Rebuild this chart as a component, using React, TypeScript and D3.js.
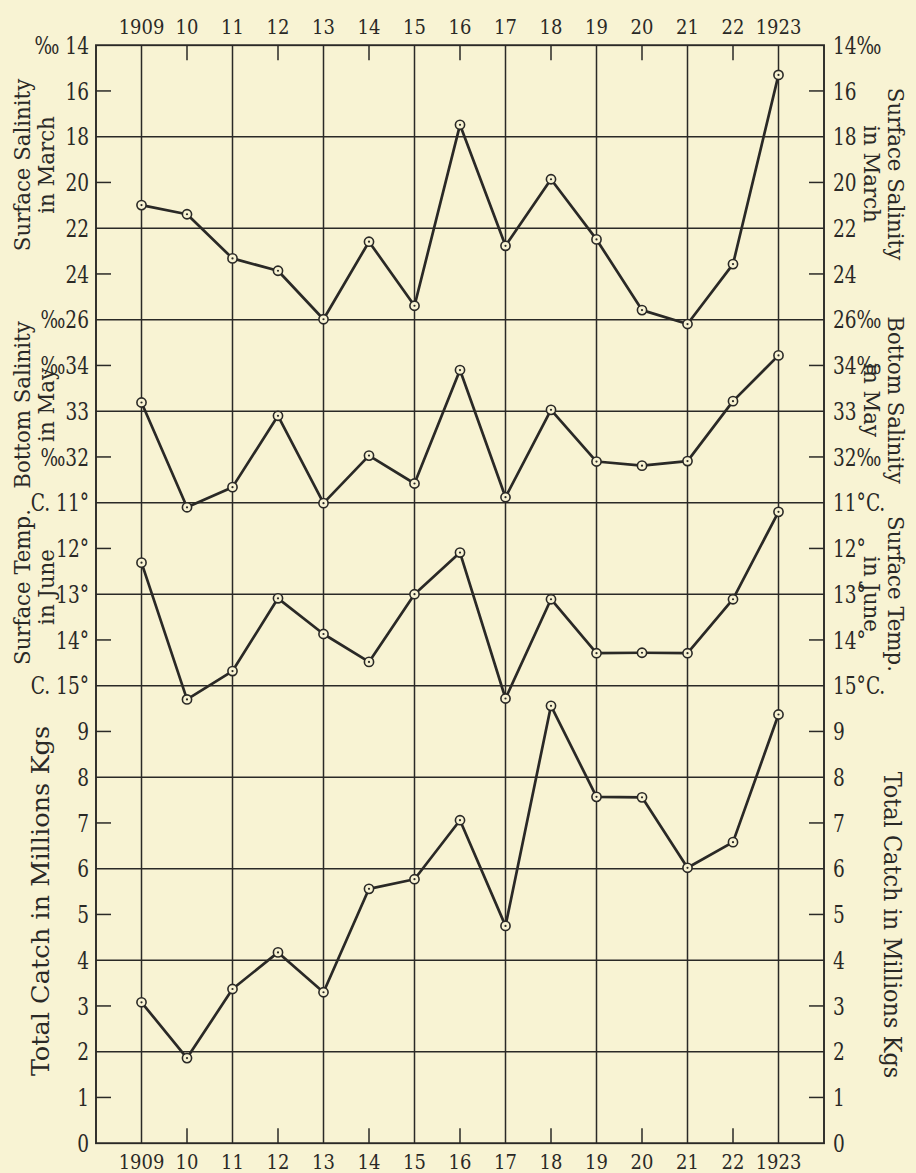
import React from "react";
import * as d3 from "d3";

const years = [1909, 1910, 1911, 1912, 1913, 1914, 1915, 1916, 1917, 1918, 1919, 1920, 1921, 1922, 1923];
const yearLabels = ["1909", "10", "11", "12", "13", "14", "15", "16", "17", "18", "19", "20", "21", "22", "1923"];

const surfaceSalinityMarch = [20.99, 21.39, 23.32, 23.86, 25.98, 22.59, 25.39, 17.48, 22.77, 19.86, 22.49, 25.58, 26.19, 23.57, 15.3];
const bottomSalinityMay = [33.19, 30.9, 31.34, 32.9, 30.99, 32.03, 31.42, 33.9, 31.12, 33.03, 31.9, 31.81, 31.91, 33.22, 34.22];
const surfaceTempJune = [12.31, 15.3, 14.68, 13.09, 13.87, 14.48, 13.0, 12.09, 15.28, 13.11, 14.29, 14.28, 14.29, 13.11, 11.2];
const totalCatch = [3.08, 1.86, 3.37, 4.17, 3.3, 5.56, 5.77, 7.06, 4.75, 9.56, 7.57, 7.56, 6.02, 6.58, 9.37];

// tick labels per panel: [value, left label, right label]
const ssLabels: [number, string, string][] = [
  [14, "‰ 14", "14‰"], [16, "16", "16"], [18, "18", "18"], [20, "20", "20"], [22, "22", "22"], [24, "24", "24"], [26, "‰26", "26‰"],
];
const bsLabels: [number, string, string][] = [[34, "‰34", "34‰"], [33, "33", "33"], [32, "‰32", "32‰"]];
const stLabels: [number, string, string][] = [
  [11, "C. 11°", "11°C."], [12, "12°", "12°"], [13, "13°", "13°"], [14, "14°", "14°"], [15, "C. 15°", "15°C."],
];
const tcLabels: [number, string, string][] = [
  [9, "9", "9"], [8, "8", "8"], [7, "7", "7"], [6, "6", "6"], [5, "5", "5"], [4, "4", "4"], [3, "3", "3"], [2, "2", "2"], [1, "1", "1"], [0, "0", "0"],
];
const ssGrid = [18, 22, 26];
const ssTicks = [16, 20, 24];
const bsGrid = [33];
const bsTicks = [34, 32];
const stGrid = [11, 13, 15];
const stTicks = [12, 14];
const tcGrid = [8, 6, 4, 2];
const tcTicks = [9, 7, 5, 3, 1];

const W = 916, H = 1173;
const BG = "#f8f3d3";
const INK = "#2a2926";
const LEFT = 96, RIGHT = 824, TOP = 45.2, STEP = 45.75;
const BOTTOM = TOP + 24 * STEP;
const FONT = "'DejaVu Serif Condensed', 'DejaVu Serif', serif";

const x = d3.scaleLinear().domain([1908, 1924]).range([LEFT, RIGHT]);
const ySS = d3.scaleLinear().domain([14, 26]).range([TOP, TOP + 6 * STEP]);
const yBS = d3.scaleLinear().domain([35, 31]).range([TOP + 6 * STEP, TOP + 10 * STEP]);
const yST = d3.scaleLinear().domain([11, 15]).range([TOP + 10 * STEP, TOP + 14 * STEP]);
const yTC = d3.scaleLinear().domain([10, 0]).range([TOP + 14 * STEP, BOTTOM]);

const panels = [
  { y: ySS, data: surfaceSalinityMarch, labels: ssLabels, grid: ssGrid, ticks: ssTicks },
  { y: yBS, data: bottomSalinityMay, labels: bsLabels, grid: bsGrid, ticks: bsTicks },
  { y: yST, data: surfaceTempJune, labels: stLabels, grid: stGrid, ticks: stTicks },
  { y: yTC, data: totalCatch, labels: tcLabels, grid: tcGrid, ticks: tcTicks },
];

function T(p: { x: number; y: number; anchor?: string; size?: number; sx?: number; rot?: number; children: any }) {
  const { anchor = "middle", size = 21, sx = 1, rot = 0 } = p;
  return (
    <text
      transform={`translate(${p.x},${p.y}) rotate(${rot}) scale(${sx},1)`}
      textAnchor={anchor}
      fontFamily={FONT}
      fontSize={size}
      fill={INK}
      dy="0.36em"
    >
      {p.children}
    </text>
  );
}

const leftTitles = [
  { lines: ["Surface Salinity", "in March"], cy: 165 },
  { lines: ["Bottom Salinity", "in May"], cy: 405 },
  { lines: ["Surface Temp.", "in June"], cy: 587 },
];
const rightTitles = [
  { lines: ["Surface Salinity", "in March"], cy: 174 },
  { lines: ["Bottom Salinity", "in May"], cy: 400 },
  { lines: ["Surface Temp.", "in June"], cy: 594 },
];

export default function App() {
  const oddYears = years.filter((yr) => yr % 2 === 1);
  const evenYears = years.filter((yr) => yr % 2 === 0);
  return (
    <div style={{ position: "absolute", left: 0, top: 0 }}>
      <svg width={W} height={H} style={{ display: "block" }}>
        <rect x={0} y={0} width={W} height={H} fill={BG} />
        {/* vertical grid */}
        {oddYears.map((yr) => (
          <line key={"v" + yr} x1={x(yr)} x2={x(yr)} y1={TOP} y2={BOTTOM} stroke={INK} strokeWidth={1.5} />
        ))}
        {evenYears.map((yr) => (
          <g key={"e" + yr}>
            <line x1={x(yr)} x2={x(yr)} y1={TOP} y2={TOP + 15} stroke={INK} strokeWidth={1.5} />
            <line x1={x(yr)} x2={x(yr)} y1={BOTTOM} y2={BOTTOM - 15} stroke={INK} strokeWidth={1.5} />
          </g>
        ))}
        {/* horizontal grid */}
        {panels.map((p, i) => (
          <g key={"h" + i}>
            {p.grid.map((v) => (
              <line key={v} x1={LEFT} x2={RIGHT} y1={p.y(v)} y2={p.y(v)} stroke={INK} strokeWidth={1.5} />
            ))}
            {p.ticks.map((v) => (
              <g key={v}>
                <line x1={LEFT} x2={LEFT + 15} y1={p.y(v)} y2={p.y(v)} stroke={INK} strokeWidth={1.5} />
                <line x1={RIGHT} x2={RIGHT - 15} y1={p.y(v)} y2={p.y(v)} stroke={INK} strokeWidth={1.5} />
              </g>
            ))}
          </g>
        ))}
        {/* frame */}
        <rect x={LEFT} y={TOP} width={RIGHT - LEFT} height={BOTTOM - TOP} fill="none" stroke={INK} strokeWidth={1.9} />
        {/* year labels */}
        {years.map((yr, i) => (
          <g key={"yl" + yr}>
            <T x={x(yr)} y={TOP - 19} size={21} sx={0.95}>{yearLabels[i]}</T>
            <T x={x(yr)} y={BOTTOM + 18} size={21} sx={0.95}>{yearLabels[i]}</T>
          </g>
        ))}
        {/* side tick labels */}
        {panels.map((p, i) => (
          <g key={"tl" + i}>
            {p.labels.map(([v, l, r]) => (
              <g key={v}>
                <T x={LEFT - 7} y={p.y(v)} anchor="end" size={24} sx={0.86}>{l}</T>
                <T x={RIGHT + 9} y={p.y(v)} anchor="start" size={24} sx={0.86}>{r}</T>
              </g>
            ))}
          </g>
        ))}
        {/* titles */}
        {leftTitles.map((t, i) =>
          t.lines.map((ln, j) => (
            <T key={"lt" + i + j} x={22 + j * 24} y={t.cy} rot={-90} size={23} sx={1.03}>{ln}</T>
          ))
        )}
        <T x={40} y={901} rot={-90} size={25} sx={1.14}>Total Catch in Millions Kgs</T>
        {rightTitles.map((t, i) =>
          t.lines.map((ln, j) => (
            <T key={"rt" + i + j} x={896 - j * 24} y={t.cy} rot={90} size={23} sx={1.03}>{ln}</T>
          ))
        )}
        <T x={893} y={925} rot={90} size={24} sx={1.04}>Total Catch in Millions Kgs</T>
        {/* data lines */}
        {panels.map((p, i) => {
          const line = d3
            .line<number>()
            .x((_, k) => x(years[k]))
            .y((v) => p.y(v));
          return (
            <g key={"d" + i}>
              <path d={line(p.data) || ""} fill="none" stroke={INK} strokeWidth={2.7} strokeLinejoin="round" />
              {p.data.map((v, k) => (
                <g key={k}>
                  <circle cx={x(years[k])} cy={p.y(v)} r={4.6} fill={BG} stroke={INK} strokeWidth={1.6} />
                  <circle cx={x(years[k])} cy={p.y(v)} r={1.1} fill={INK} />
                </g>
              ))}
            </g>
          );
        })}
      </svg>
    </div>
  );
}
